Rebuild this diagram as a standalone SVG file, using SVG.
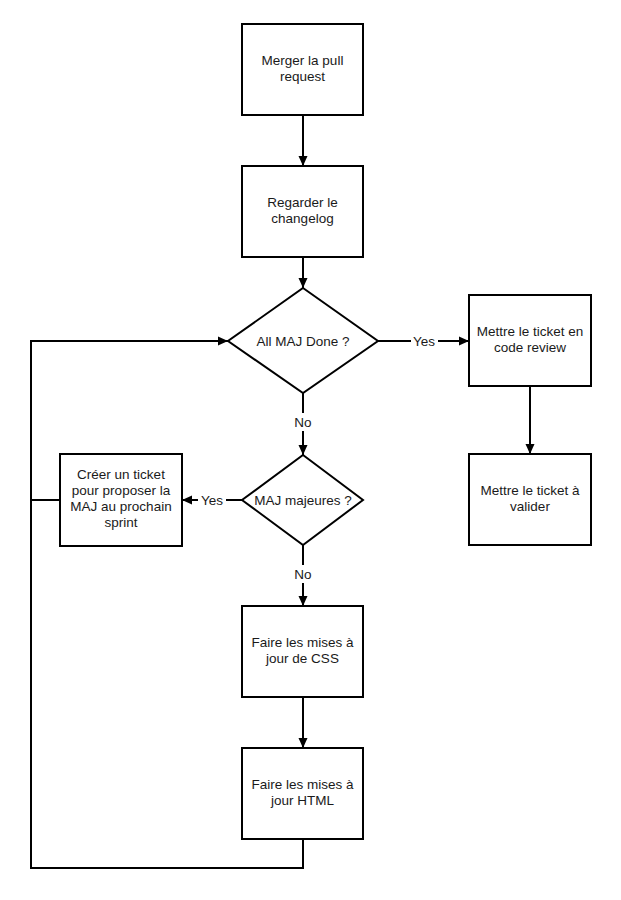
<svg xmlns="http://www.w3.org/2000/svg" width="621" height="900" viewBox="0 0 621 900">
<style>
.n{fill:#fff;stroke:#000;stroke-width:2}
.t{font-family:"Liberation Sans",Arial,sans-serif;font-size:13.5px;fill:#1a1a1a;text-anchor:middle}
.c{fill:none;stroke:#000;stroke-width:2}
.lb{font-family:"Liberation Sans",Arial,sans-serif;font-size:13.5px;fill:#1a1a1a;text-anchor:middle}
</style>
<defs>
<marker id="ah" viewBox="0 0 10 10" refX="10" refY="5" markerWidth="10" markerHeight="10" markerUnits="userSpaceOnUse" orient="auto">
<path d="M0,0.5 L10,5 L0,9.5 z" fill="#000"/>
</marker>
</defs>
<rect width="621" height="900" fill="#fff"/>
<g id="connectors">
<path class="c" d="M303,115 V166" marker-end="url(#ah)"/>
<path class="c" d="M303,257 V288" marker-end="url(#ah)"/>
<path class="c" d="M378,341 H411 M438,341 H469" marker-end="url(#ah)"/>
<path class="c" d="M530,386 V454" marker-end="url(#ah)"/>
<path class="c" d="M303,393 V413 M303,431 V455" marker-end="url(#ah)"/>
<path class="c" d="M242,500 H226 M198,500 H182" marker-end="url(#ah)"/>
<path class="c" d="M303,545 V565 M303,583 V606" marker-end="url(#ah)"/>
<path class="c" d="M303,697 V748" marker-end="url(#ah)"/>
<path class="c" d="M303,839 V868 H31 V341 H228" marker-end="url(#ah)"/>
<path class="c" d="M60,500 H31"/>
<text class="lb" x="424" y="345.5">Yes</text>
<text class="lb" x="303" y="426.5">No</text>
<text class="lb" x="212" y="504.5">Yes</text>
<text class="lb" x="303" y="578.5">No</text>
</g>
<g id="merger"><rect class="n" x="242" y="24" width="121" height="91"/><text class="t" x="302.5" y="65">Merger la pull</text><text class="t" x="302.5" y="81">request</text></g>
<g id="changelog"><rect class="n" x="242" y="166" width="121" height="91"/><text class="t" x="302.5" y="207">Regarder le</text><text class="t" x="302.5" y="223">changelog</text></g>
<g id="alldone"><polygon class="n" points="303,288 378,341 303,393 228,341"/><text class="t" x="303" y="345.5">All MAJ Done ?</text></g>
<g id="codereview"><rect class="n" x="469" y="295" width="122" height="91"/><text class="t" x="530" y="336">Mettre le ticket en</text><text class="t" x="530" y="352">code review</text></g>
<g id="valider"><rect class="n" x="469" y="454" width="122" height="91"/><text class="t" x="530" y="495">Mettre le ticket à</text><text class="t" x="530" y="511">valider</text></g>
<g id="majeures"><polygon class="n" points="303,455 363,500 303,545 242,500"/><text class="t" x="303" y="504.5">MAJ majeures ?</text></g>
<g id="creer"><rect class="n" x="60" y="454" width="122" height="92"/><text class="t" x="121" y="479">Créer un ticket</text><text class="t" x="121" y="495">pour proposer la</text><text class="t" x="121" y="511">MAJ au prochain</text><text class="t" x="121" y="527">sprint</text></g>
<g id="css"><rect class="n" x="242" y="606" width="121" height="91"/><text class="t" x="302.5" y="647">Faire les mises à</text><text class="t" x="302.5" y="663">jour de CSS</text></g>
<g id="html"><rect class="n" x="242" y="748" width="121" height="91"/><text class="t" x="302.5" y="789">Faire les mises à</text><text class="t" x="302.5" y="805">jour HTML</text></g>
</svg>
